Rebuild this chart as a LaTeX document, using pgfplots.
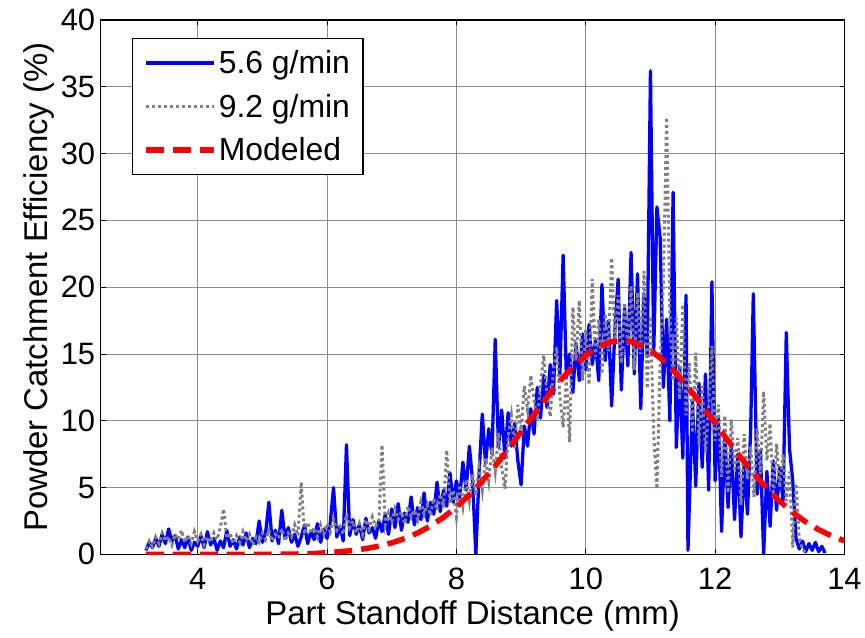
\documentclass[border=0pt]{standalone}
\usepackage{fontspec}
\setmainfont{Liberation Sans}
\usepackage{pgfplots}
\pgfplotsset{compat=1.18}
\definecolor{mgray}{RGB}{128,128,128}
\begin{document}
\begin{tikzpicture}
\begin{axis}[
 scale only axis, width=746pt, height=536pt,
 xmin=2.5, xmax=14, ymin=0, ymax=40,
 xtick={4,6,...,14}, ytick={0,5,...,40},
 grid=major, major grid style={line width=0.7pt, draw=black!45},
 tick align=inside, major tick length=5pt,
 tick style={line width=0.8pt, black},
 axis line style={line width=1.3pt},
 /pgf/number format/assume math mode=true,
 tick label style={font=\fontsize{31}{37}\selectfont},
 xticklabel style={yshift=-10pt},
 yticklabel style={xshift=-2pt},
 xlabel={Part Standoff Distance (mm)},
 ylabel={Powder Catchment Efficiency (\%)},
 xlabel style={yshift=-4pt},
 label style={font=\fontsize{33}{40}\selectfont},
 legend cell align=left,
 legend style={at={(0.042,0.966)}, anchor=north west, draw=black, line width=1.2pt,
   font=\fontsize{32}{38}\selectfont, inner xsep=11pt, inner ysep=10pt, row sep=15pt},
 legend image code/.code={\draw[#1] (0pt,0pt) -- (68pt,0pt);},
]
\addplot[color=blue, line width=3.3pt, line join=round] coordinates {
(3.20,0.3) (3.25,0.9) (3.30,0.5) (3.35,1.2) (3.40,0.6) (3.45,1.5) (3.50,0.8) (3.55,1.9) (3.60,1.0) (3.65,1.4)
(3.70,0.4) (3.75,1.1) (3.80,0.5) (3.85,1.3) (3.90,0.3) (3.95,0.9) (4.00,0.6) (4.05,1.4) (4.10,0.5) (4.15,1.7)
(4.20,0.7) (4.25,1.2) (4.30,0.3) (4.35,1.0) (4.40,0.5) (4.45,1.8) (4.50,0.6) (4.55,1.1) (4.60,0.4) (4.65,1.3)
(4.70,0.7) (4.75,1.6) (4.80,0.5) (4.85,1.2) (4.90,0.8) (4.95,2.5) (5.00,0.9) (5.05,1.6) (5.10,3.9) (5.15,1.0)
(5.20,1.8) (5.25,0.8) (5.30,3.3) (5.35,1.2) (5.40,2.0) (5.45,0.9) (5.50,1.5) (5.55,0.6) (5.60,1.3) (5.65,2.2)
(5.70,0.8) (5.75,1.7) (5.80,1.1) (5.85,2.3) (5.90,0.9) (5.95,1.9) (6.00,1.2) (6.05,2.4) (6.10,5.0) (6.15,1.3)
(6.20,2.1) (6.25,1.0) (6.30,8.2) (6.35,1.4) (6.40,2.6) (6.45,1.5) (6.50,2.2) (6.55,1.1) (6.60,2.7) (6.65,1.6)
(6.70,2.0) (6.75,1.2) (6.80,2.5) (6.85,1.7) (6.90,3.0) (6.95,1.5) (7.00,3.4) (7.05,2.0) (7.10,3.8) (7.15,1.8)
(7.20,3.1) (7.25,2.4) (7.30,4.3) (7.35,2.2) (7.40,3.5) (7.45,2.6) (7.50,4.6) (7.55,2.5) (7.60,3.9) (7.65,3.0)
(7.70,5.4) (7.75,3.2) (7.80,4.8) (7.85,3.6) (7.90,6.1) (7.95,3.9) (8.00,5.5) (8.05,4.2) (8.10,6.9) (8.15,4.8)
(8.20,8.1) (8.25,5.5) (8.30,0.0) (8.35,6.0) (8.40,10.5) (8.45,6.8) (8.50,9.4) (8.55,7.5) (8.60,16.1) (8.65,8.0)
(8.70,10.8) (8.75,7.2) (8.80,10.6) (8.85,8.1) (8.90,9.8) (8.95,7.0) (9.00,5.2) (9.05,9.6) (9.10,8.1) (9.15,10.9)
(9.20,9.0) (9.25,12.5) (9.30,10.2) (9.35,13.4) (9.40,11.0) (9.45,14.2) (9.50,12.0) (9.55,19.0) (9.60,13.5) (9.65,22.4)
(9.70,13.2) (9.75,15.0) (9.80,12.1) (9.85,15.8) (9.90,13.0) (9.95,16.5) (10.00,13.8) (10.05,17.2) (10.10,14.2) (10.15,16.0)
(10.20,13.0) (10.25,20.2) (10.30,14.5) (10.35,17.5) (10.40,11.1) (10.45,16.8) (10.50,20.6) (10.55,12.3) (10.60,18.4) (10.65,14.1)
(10.70,22.6) (10.75,13.5) (10.80,21.0) (10.85,10.9) (10.90,19.5) (10.95,14.8) (11.00,36.2) (11.05,15.0) (11.10,26.0) (11.15,23.7)
(11.20,12.5) (11.25,17.6) (11.30,10.0) (11.35,27.1) (11.40,8.0) (11.45,14.0) (11.50,7.2) (11.55,19.4) (11.58,0.3) (11.65,11.5)
(11.70,5.1) (11.75,12.8) (11.80,6.5) (11.85,13.5) (11.90,4.8) (11.95,20.4) (12.00,5.5) (12.05,10.2) (12.10,1.7) (12.15,9.0)
(12.20,3.5) (12.25,8.2) (12.30,2.6) (12.35,7.5) (12.40,1.3) (12.45,6.8) (12.50,3.0) (12.55,9.5) (12.59,19.5) (12.65,4.5)
(12.70,7.8) (12.75,0.0) (12.80,6.2) (12.85,2.1) (12.90,7.0) (12.95,3.3) (13.00,6.5) (13.05,4.0) (13.10,16.6) (13.15,7.9)
(13.20,5.5) (13.25,1.2) (13.30,0.4) (13.35,1.0) (13.40,0.2) (13.45,0.8) (13.50,0.3) (13.55,0.9) (13.60,0.2) (13.65,0.6)
(13.70,0.1)
};
\addlegendentry{5.6 g/min}
\addplot[color=mgray, line width=3pt, dash pattern=on 3pt off 3pt] coordinates {
(3.20,0.4) (3.25,1.0) (3.30,0.6) (3.35,1.3) (3.40,0.8) (3.45,1.6) (3.50,1.0) (3.55,1.3) (3.60,0.7) (3.65,1.5)
(3.70,1.1) (3.75,1.8) (3.80,0.9) (3.85,1.4) (3.90,0.8) (3.95,1.7) (4.00,1.0) (4.05,1.5) (4.10,0.7) (4.15,1.3)
(4.20,0.9) (4.25,1.6) (4.30,1.1) (4.35,2.0) (4.40,3.4) (4.45,1.2) (4.50,1.6) (4.55,0.8) (4.60,1.4) (4.65,0.9)
(4.70,1.7) (4.75,1.0) (4.80,1.5) (4.85,0.7) (4.90,1.3) (4.95,0.9) (5.00,1.6) (5.05,1.1) (5.10,1.8) (5.15,1.0)
(5.20,1.5) (5.25,1.2) (5.30,1.9) (5.35,1.0) (5.40,1.6) (5.45,1.3) (5.50,2.2) (5.55,1.4) (5.60,5.4) (5.65,1.5)
(5.70,2.4) (5.75,1.6) (5.80,2.0) (5.85,1.3) (5.90,2.2) (5.95,1.5) (6.00,2.3) (6.05,1.7) (6.10,2.6) (6.15,1.8)
(6.20,2.1) (6.25,1.5) (6.30,3.0) (6.35,2.0) (6.40,2.5) (6.45,1.6) (6.50,2.3) (6.55,1.5) (6.60,2.6) (6.65,1.9)
(6.70,2.8) (6.75,2.1) (6.80,2.5) (6.85,8.2) (6.90,2.2) (6.95,3.1) (7.00,2.4) (7.05,3.4) (7.10,2.6) (7.15,3.2)
(7.20,2.3) (7.25,3.6) (7.30,2.8) (7.35,3.3) (7.40,2.6) (7.45,3.9) (7.50,3.0) (7.55,3.7) (7.60,2.9) (7.65,4.2)
(7.70,3.3) (7.75,4.5) (7.80,3.5) (7.85,7.8) (7.90,3.8) (7.95,4.8) (8.00,2.8) (8.05,5.2) (8.10,3.6) (8.15,5.6)
(8.20,4.0) (8.25,6.0) (8.30,4.4) (8.35,6.5) (8.40,4.8) (8.45,7.2) (8.50,5.5) (8.55,8.0) (8.60,6.2) (8.65,9.1)
(8.70,6.5) (8.75,4.9) (8.80,8.8) (8.85,10.4) (8.90,7.9) (8.95,11.2) (9.00,9.3) (9.05,12.6) (9.10,10.8) (9.15,13.4)
(9.20,11.5) (9.25,10.0) (9.30,12.8) (9.35,14.9) (9.40,12.0) (9.45,10.3) (9.50,13.8) (9.55,15.5) (9.60,11.8) (9.65,9.5)
(9.70,13.2) (9.75,8.4) (9.80,18.5) (9.85,14.5) (9.90,19.0) (9.95,13.0) (10.00,16.8) (10.05,12.7) (10.10,20.6) (10.15,14.8)
(10.20,17.6) (10.25,13.5) (10.30,18.0) (10.35,15.2) (10.40,22.2) (10.45,16.0) (10.50,19.4) (10.55,14.3) (10.60,18.8) (10.65,15.6)
(10.70,20.1) (10.75,13.8) (10.80,19.6) (10.85,15.0) (10.90,21.2) (10.95,12.4) (11.00,17.8) (11.05,9.0) (11.10,4.9) (11.15,14.2)
(11.20,20.5) (11.25,32.7) (11.30,18.0) (11.35,13.0) (11.40,17.7) (11.45,11.6) (11.50,18.7) (11.55,10.4) (11.60,14.3) (11.65,9.1)
(11.70,15.1) (11.75,8.2) (11.80,12.6) (11.85,7.6) (11.90,11.0) (11.95,15.6) (12.00,8.5) (12.05,11.2) (12.10,5.8) (12.15,10.4)
(12.20,4.6) (12.25,10.1) (12.30,6.2) (12.35,8.7) (12.40,3.7) (12.45,9.0) (12.50,5.6) (12.55,8.1) (12.60,4.3) (12.65,9.4)
(12.70,6.0) (12.75,12.2) (12.80,7.0) (12.85,9.8) (12.90,4.2) (12.95,8.3) (13.00,5.0) (13.05,7.5) (13.10,4.0) (13.15,6.2)
(13.20,0.5) (13.25,5.3) (13.30,1.2) (13.35,0.4) (13.40,0.1)
};
\addlegendentry{9.2 g/min}
\addplot[color=red, line width=5.5pt, dash pattern=on 18pt off 9pt] coordinates {
(3.2,0.00) (3.6,0.00) (4.0,0.00) (4.4,0.00) (4.8,0.00) (5.2,0.01) (5.6,0.03) (5.8,0.06) (6.0,0.13) (6.2,0.20)
(6.4,0.29) (6.6,0.43) (6.8,0.61) (7.0,0.86) (7.2,1.18) (7.4,1.60) (7.6,2.12) (7.8,2.77) (8.0,3.54) (8.2,4.44)
(8.4,5.48) (8.6,6.62) (8.8,7.86) (9.0,9.16) (9.2,10.48) (9.4,11.77) (9.6,12.98) (9.8,14.04) (10.0,14.92) (10.2,15.55)
(10.4,15.92) (10.55,16.00) (10.7,15.92) (10.9,15.55) (11.0,15.27) (11.2,14.51) (11.4,13.53) (11.6,12.39) (11.8,11.14) (12.0,9.82)
(12.2,8.51) (12.4,7.23) (12.6,6.03) (12.8,4.94) (13.0,3.97) (13.2,3.14) (13.4,2.43) (13.6,1.85) (13.8,1.38) (14.0,1.01)
};
\addlegendentry{Modeled}
\end{axis}
\path ([shift={(-101pt,-83pt)}]current axis.south west) rectangle ([shift={(18pt,20pt)}]current axis.north east);
\end{tikzpicture}
\end{document}
